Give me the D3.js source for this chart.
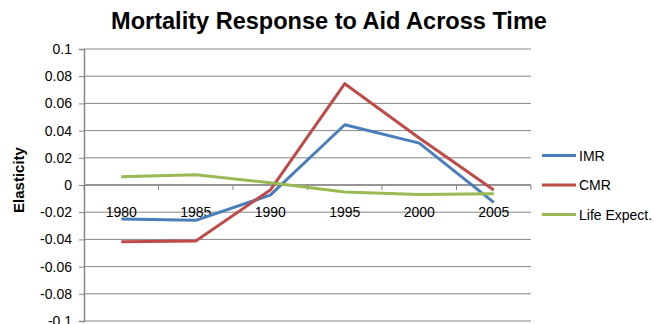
<!DOCTYPE html>
<html>
<head>
<meta charset="utf-8">
<script src="https://cdn.jsdelivr.net/npm/d3@7"></script>
<style>
  html, body { margin: 0; padding: 0; background: #fff; }
  svg { display: block; font-family: "Liberation Sans", Arial, sans-serif; }
</style>
</head>
<body>
<svg id="chart" width="654" height="324"></svg>
<script>
// Elasticity of mortality measures with respect to aid, by period
const years = ["1980", "1985", "1990", "1995", "2000", "2005"];
const imr = [-0.025, -0.026, -0.0074, 0.0443, 0.0308, -0.0128];
const cmr = [-0.0418, -0.0411, -0.0037, 0.0745, 0.0345, -0.0037];
const lifeExpect = [0.0061, 0.0076, 0.0017, -0.0052, -0.0069, -0.0064];
const yTicks = [0.1, 0.08, 0.06, 0.04, 0.02, 0, -0.02, -0.04, -0.06, -0.08, -0.1];
const seriesNames = ["IMR", "CMR", "Life Expect."];
const seriesColors = ["#4a7ebb", "#be4b48", "#98b954"];

const series = seriesNames.map((name, i) => ({
  name,
  color: seriesColors[i],
  values: [imr, cmr, lifeExpect][i]
}));

const svg = d3.select("#chart");
const plot = { left: 84, right: 531, top: 49, bottom: 321 };

const x = d3.scaleBand().domain(years).range([plot.left, plot.right]);
const y = d3.scaleLinear().domain([-0.1, 0.1]).range([plot.bottom, plot.top]);

const gridColor = "#868686";

// horizontal gridlines
svg.append("g")
  .selectAll("line")
  .data(yTicks)
  .join("line")
  .attr("x1", plot.left).attr("x2", plot.right)
  .attr("y1", d => y(d)).attr("y2", d => y(d))
  .attr("stroke", gridColor).attr("stroke-width", 1);

// value axis
const yAxis = svg.append("g")
  .attr("transform", `translate(${plot.left},0)`)
  .call(d3.axisLeft(y).tickValues(yTicks).tickSize(5).tickPadding(7)
    .tickFormat(d => d === 0 ? "0" : String(+d.toFixed(2))));
yAxis.select(".domain").attr("stroke", gridColor).attr("stroke-width", 1.5);
yAxis.selectAll(".tick line").attr("stroke", gridColor);
yAxis.selectAll(".tick text")
  .attr("fill", "#000").style("font-size", "14px")
  .style("font-family", "'Liberation Sans', Arial, sans-serif");

// category axis along the zero line, ticks between categories
const catAxis = svg.append("g").attr("transform", `translate(0,${y(0)})`);
catAxis.append("line")
  .attr("x1", plot.left).attr("x2", plot.right)
  .attr("stroke", gridColor).attr("stroke-width", 1.5);
const boundaries = years.map(yr => x(yr) + x.bandwidth()).concat([x(years[0])]);
catAxis.selectAll("line.tk")
  .data(boundaries)
  .join("line").attr("class", "tk")
  .attr("x1", d => d).attr("x2", d => d)
  .attr("y1", 0).attr("y2", 5)
  .attr("stroke", gridColor);
catAxis.selectAll("text")
  .data(years)
  .join("text")
  .attr("x", d => x(d) + x.bandwidth() / 2)
  .attr("y", 32)
  .attr("text-anchor", "middle")
  .style("font-size", "14px")
  .attr("fill", "#000")
  .text(d => d);

// series lines
const line = d3.line()
  .x((d, i) => x(years[i]) + x.bandwidth() / 2)
  .y(d => y(d));

svg.append("g")
  .selectAll("path")
  .data(series)
  .join("path")
  .attr("d", d => line(d.values))
  .attr("fill", "none")
  .attr("stroke", d => d.color)
  .attr("stroke-width", 3)
  .attr("stroke-linejoin", "round");

// legend
const legend = svg.append("g")
  .selectAll("g")
  .data(series)
  .join("g")
  .attr("transform", (d, i) => `translate(542,${155.5 + i * 29.5})`);
legend.append("line")
  .attr("x1", 0).attr("x2", 34)
  .attr("stroke", d => d.color).attr("stroke-width", 3);
legend.append("text")
  .attr("x", 37).attr("y", 5)
  .style("font-size", "14px")
  .attr("fill", "#000")
  .text(d => d.name);

// title
const title = svg.append("text")
  .attr("x", 329).attr("y", 29)
  .attr("text-anchor", "middle")
  .style("font-size", "22px").style("font-weight", "bold")
  .attr("fill", "#000")
  .text("Mortality Response to Aid Across Time");
const tw = title.node().getComputedTextLength();
title.style("font-size", (22 * 436 / tw).toFixed(2) + "px");

// value axis title
svg.append("text")
  .attr("transform", "translate(24,180) rotate(-90)")
  .attr("text-anchor", "middle")
  .style("font-size", "15px").style("font-weight", "bold")
  .attr("fill", "#000")
  .text("Elasticity");
</script>
</body>
</html>
